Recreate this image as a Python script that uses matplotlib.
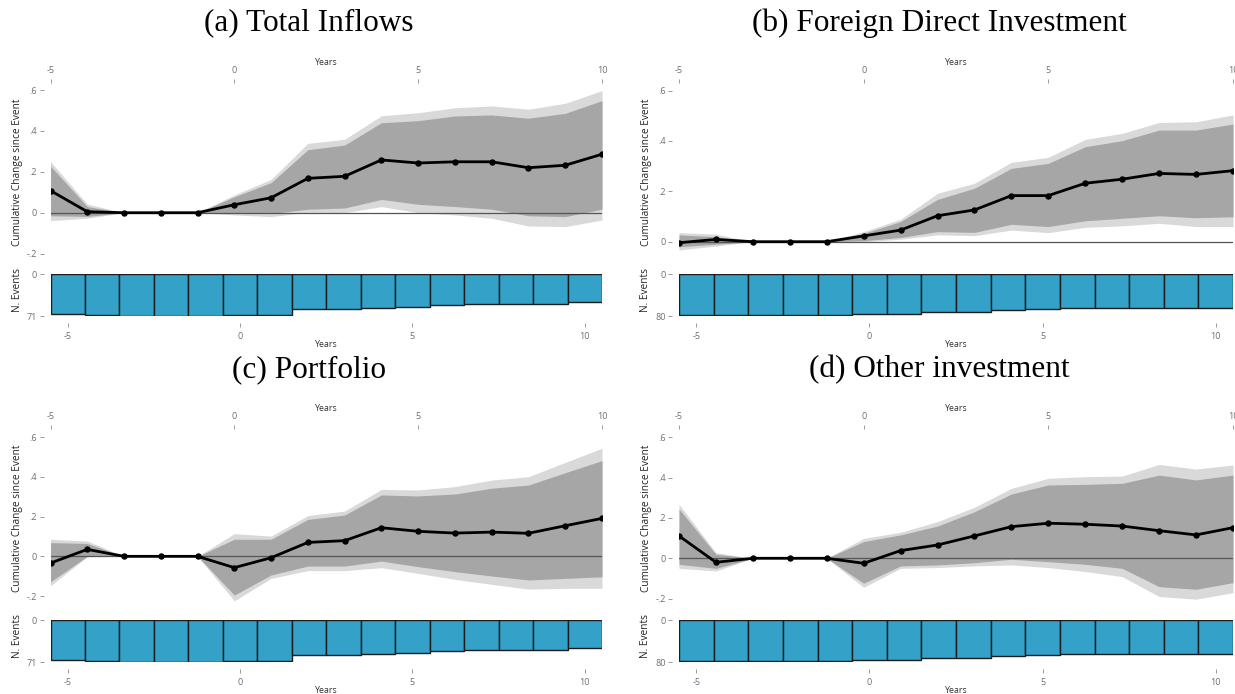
import matplotlib
matplotlib.use("Agg")
import matplotlib.pyplot as plt

# Event-study horizon (years relative to the event)
years = list(range(-5, 11))
year_ticks = [-5, 0, 5, 10]

titles = ["(a) Total Inflows", "(b) Foreign Direct Investment",
          "(c) Portfolio", "(d) Other investment"]

# (a) Total inflows: point estimate, 90% and 95% bands
a_coef = [0.108, 0.005, 0, 0, 0, 0.039, 0.073, 0.168, 0.178, 0.258, 0.243, 0.249, 0.249, 0.220, 0.232, 0.286]
a_hi95 = [0.250, 0.042, 0, 0, 0, 0.087, 0.163, 0.339, 0.359, 0.474, 0.489, 0.513, 0.522, 0.506, 0.535, 0.597]
a_hi90 = [0.228, 0.030, 0, 0, 0, 0.078, 0.147, 0.308, 0.331, 0.440, 0.450, 0.473, 0.478, 0.462, 0.486, 0.548]
a_lo90 = [-0.015, -0.018, 0, 0, 0, -0.003, -0.004, 0.017, 0.023, 0.065, 0.041, 0.030, 0.017, -0.015, -0.019, 0.017]
a_lo95 = [-0.039, -0.027, 0, 0, 0, -0.011, -0.019, 0.002, 0.000, 0.030, 0.000, -0.011, -0.027, -0.065, -0.068, -0.036]
a_events = [67, 69, 71, 71, 71, 69, 69, 60, 60, 57, 55, 53, 51, 51, 50, 48]

# (b) Foreign direct investment
b_coef = [-0.004, 0.009, 0, 0, 0, 0.023, 0.046, 0.103, 0.126, 0.183, 0.183, 0.232, 0.248, 0.271, 0.267, 0.282]
b_hi95 = [0.036, 0.030, 0, 0, 0, 0.040, 0.089, 0.192, 0.232, 0.315, 0.335, 0.406, 0.430, 0.473, 0.476, 0.503]
b_hi90 = [0.027, 0.020, 0, 0, 0, 0.033, 0.080, 0.168, 0.212, 0.291, 0.311, 0.377, 0.401, 0.443, 0.443, 0.467]
b_lo90 = [-0.020, -0.010, 0, 0, 0, 0.004, 0.017, 0.040, 0.037, 0.069, 0.060, 0.083, 0.093, 0.103, 0.095, 0.099]
b_lo95 = [-0.033, -0.017, 0, 0, 0, 0.000, 0.010, 0.027, 0.024, 0.046, 0.036, 0.057, 0.063, 0.073, 0.060, 0.060]
b_events = [79, 79, 79, 79, 79, 77, 77, 72, 73, 69, 67, 64, 64, 64, 65, 64]

# (c) Portfolio
c_coef = [-0.034, 0.035, 0, 0, 0, -0.057, -0.007, 0.070, 0.079, 0.144, 0.126, 0.117, 0.122, 0.116, 0.154, 0.191]
c_hi95 = [0.086, 0.077, 0, 0, 0, 0.114, 0.102, 0.205, 0.228, 0.337, 0.334, 0.351, 0.384, 0.401, 0.473, 0.544]
c_hi90 = [0.069, 0.065, 0, 0, 0, 0.086, 0.086, 0.186, 0.208, 0.309, 0.304, 0.314, 0.343, 0.359, 0.421, 0.482]
c_lo90 = [-0.128, 0.000, 0, 0, 0, -0.195, -0.094, -0.049, -0.049, -0.024, -0.052, -0.077, -0.099, -0.119, -0.111, -0.103]
c_lo95 = [-0.148, -0.002, 0, 0, 0, -0.224, -0.111, -0.072, -0.072, -0.057, -0.086, -0.116, -0.141, -0.165, -0.161, -0.161]
c_events = [67, 69, 71, 71, 71, 69, 69, 60, 60, 57, 55, 53, 51, 51, 50, 48]

# (d) Other investment
d_coef = [0.111, -0.020, 0, 0, 0, -0.025, 0.038, 0.066, 0.111, 0.157, 0.174, 0.169, 0.160, 0.137, 0.116, 0.152]
d_hi95 = [0.268, 0.028, 0, 0, 0, 0.099, 0.129, 0.182, 0.253, 0.347, 0.397, 0.405, 0.408, 0.466, 0.443, 0.463]
d_hi90 = [0.245, 0.020, 0, 0, 0, 0.083, 0.116, 0.160, 0.231, 0.319, 0.364, 0.367, 0.372, 0.413, 0.389, 0.413]
d_lo90 = [-0.030, -0.050, 0, 0, 0, -0.124, -0.038, -0.033, -0.022, -0.005, -0.017, -0.030, -0.050, -0.141, -0.154, -0.121]
d_lo95 = [-0.050, -0.063, 0, 0, 0, -0.144, -0.050, -0.046, -0.038, -0.033, -0.046, -0.066, -0.091, -0.190, -0.203, -0.171]
d_events = [79, 79, 79, 79, 79, 77, 77, 72, 73, 69, 67, 64, 64, 64, 65, 64]

events_max = [71, 80, 71, 80]

W, H = 1235, 694
plt.rcParams['font.family'] = ['Open Sans', 'DejaVu Sans']
fig = plt.figure(figsize=(W / 100, H / 100), dpi=100)

TICK_GRAY = '#8a8a8a'
LABEL_GRAY = '#6e6e6e'
DARK_BAND = '#a6a6a6'
LIGHT_BAND = '#d9d9d9'
BAR_BLUE = '#33a1c8'
PX = 0.72  # points per pixel at 100 dpi


def box(l, t, r, b):
    return fig.add_axes([l / W, 1 - b / H, (r - l) / W, (b - t) / H])


def fmt(v):
    if abs(v) < 1e-9:
        return "0"
    s = f"{v:.1f}"
    return s.replace("0.", ".")


def draw_panel(x0, x1, row, coef, lo95, hi95, lo90, hi90, ylim, yticks,
               events, emax, title, title_x):
    title_y, ltop, lbot, btop, bbot = row

    # coefficient path with confidence bands
    ax = box(x0, ltop, x1, lbot)
    ax.fill_between(years, lo95, hi95, color=LIGHT_BAND, lw=0)
    ax.fill_between(years, lo90, hi90, color=DARK_BAND, lw=0)
    ax.axhline(0, color='#555555', lw=0.9)
    ax.plot(years, coef, color='black', lw=2.0, marker='o', ms=3.6)
    ax.set_xlim(years[0], years[-1])
    ax.set_ylim(*ylim)
    for s in ax.spines.values():
        s.set_visible(False)
    ax.spines['top'].set_position(('outward', 3 * PX))
    ax.spines['left'].set_position(('outward', 7 * PX))
    ax.xaxis.tick_top()
    ax.xaxis.set_label_position('top')
    ax.set_xticks(year_ticks)
    ax.set_xticklabels([str(v) for v in year_ticks])
    ax.set_yticks(yticks)
    ax.set_yticklabels([fmt(v) for v in yticks])
    ax.tick_params(axis='x', length=3, width=0.6, color=TICK_GRAY,
                   labelsize=6.5, labelcolor=LABEL_GRAY, pad=2.5)
    ax.tick_params(axis='y', length=3, width=0.6, color=TICK_GRAY,
                   labelsize=6.5, labelcolor=LABEL_GRAY, pad=1.5)
    ax.set_xlabel('Years', fontsize=6.3, color='#333333', labelpad=1.0)

    # number of events per horizon, hanging from zero
    bx = box(x0, btop, x1, bbot)
    bx.bar(years, events, width=1.0, color=BAR_BLUE, edgecolor='#1c1c1c',
           linewidth=1.0)
    bx.set_xlim(years[0] - 0.5, years[-1] + 0.5)
    bx.set_ylim(emax, 0)
    for s in bx.spines.values():
        s.set_visible(False)
    bx.spines['bottom'].set_position(('outward', 7 * PX))
    bx.spines['left'].set_position(('outward', 7 * PX))
    bx.set_xticks(year_ticks)
    bx.set_xticklabels([str(v) for v in year_ticks])
    bx.set_yticks([0, emax])
    bx.set_yticklabels(['0', str(emax)])
    bx.tick_params(axis='x', length=3, width=0.6, color=TICK_GRAY,
                   labelsize=6.5, labelcolor=LABEL_GRAY, pad=3.5)
    bx.tick_params(axis='y', length=3, width=0.6, color=TICK_GRAY,
                   labelsize=6.5, labelcolor=LABEL_GRAY, pad=1.5)
    bx.set_xlabel('Years', fontsize=6.3, color='#333333', labelpad=-1)

    ylab_x = x0 - 33
    fig.text(ylab_x / W, 1 - (ltop + lbot) / 2 / H, 'Cumulative Change since Event',
             rotation=90, ha='center', va='center', fontsize=7.3, color='#222222')
    fig.text(ylab_x / W, 1 - ((btop + bbot) / 2 - 5) / H, 'N. Events',
             rotation=90, ha='center', va='center', fontsize=7.3, color='#222222')
    fig.text(title_x / W, 1 - title_y / H, title, ha='center', va='center',
             fontsize=22.5, family='Liberation Serif', color='black')


row1 = (23, 86, 258, 274, 316)
row2 = (370, 432, 605, 620, 662)

draw_panel(50.5, 602, row1, a_coef, a_lo95, a_hi95, a_lo90, a_hi90,
           (-0.2215, 0.6196), [-0.2, 0, 0.2, 0.4, 0.6], a_events, events_max[0],
           titles[0], 309)
draw_panel(679, 1233, row1, b_coef, b_lo95, b_hi95, b_lo90, b_hi90,
           (-0.0647, 0.618), [0, 0.2, 0.4, 0.6], b_events, events_max[1],
           titles[1], 939)
draw_panel(50.5, 602, row2, c_coef, c_lo95, c_hi95, c_lo90, c_hi90,
           (-0.245, 0.626), [-0.2, 0, 0.2, 0.4, 0.6], c_events, events_max[2],
           titles[2], 309)
draw_panel(679, 1233, row2, d_coef, d_lo95, d_hi95, d_lo90, d_hi90,
           (-0.232, 0.627), [-0.2, 0, 0.2, 0.4, 0.6], d_events, events_max[3],
           titles[3], 939)

fig.savefig('out.png', dpi=100, facecolor='white')
